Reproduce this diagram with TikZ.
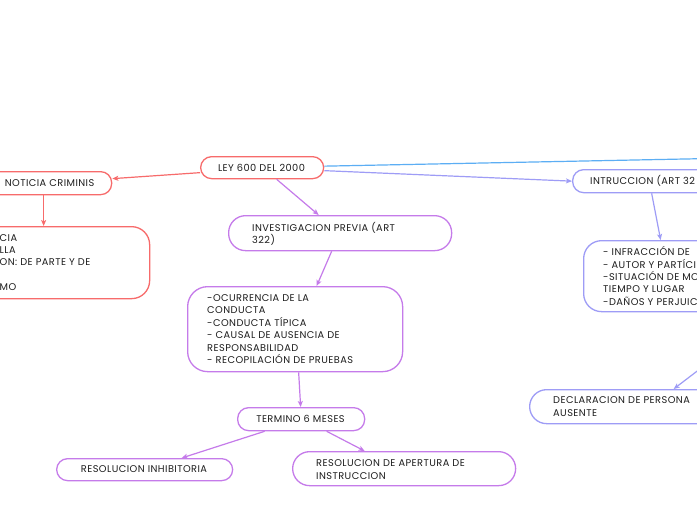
\documentclass[tikz,border=0pt]{standalone}
\usepackage{fontspec}
\setmainfont[LetterSpace=4.5]{Poppins}
\usetikzlibrary{arrows.meta}
\definecolor{cred}{HTML}{F76B6B}
\definecolor{cpur}{HTML}{C57BEA}
\definecolor{cvio}{HTML}{9E9CF6}
\definecolor{cblu}{HTML}{5CAEF4}
\definecolor{ctxt}{HTML}{1E1E1E}
\tikzset{
  box/.style={draw, line width=1.3pt, fill=white, inner sep=0pt, anchor=north west},
  txt/.style={inner sep=0pt, align=left, text=ctxt, font=\fontsize{9.8}{12.4}\selectfont},
  conn/.style={line width=1.2pt, -{Stealth[length=6pt,width=5pt,inset=1.5pt]}},
}
\begin{document}
\begin{tikzpicture}[x=1pt,y=-1pt]
\path[use as bounding box, clip] (0,0) rectangle (697,520);
\fill[white] (0,0) rectangle (697,520);
% boxes
\node[box, draw=cred, minimum width=123pt, minimum height=22pt, rounded corners=11pt] (ley) at (200,156) {};
\node[box, draw=cred, minimum width=141pt, minimum height=23pt, rounded corners=11pt] (noticia) at (-30,171) {};
\node[box, draw=cred, minimum width=179pt, minimum height=72pt, rounded corners=18pt] (red) at (-30,226) {};
\node[box, draw=cpur, minimum width=223pt, minimum height=35pt, rounded corners=17pt] (inv) at (228,215) {};
\node[box, draw=cpur, minimum width=215pt, minimum height=85pt, rounded corners=20pt] (elem) at (187,286) {};
\node[box, draw=cpur, minimum width=127pt, minimum height=23pt, rounded corners=11pt] (term) at (237,407) {};
\node[box, draw=cpur, minimum width=176pt, minimum height=22pt, rounded corners=11pt] (inhib) at (56,458) {};
\node[box, draw=cpur, minimum width=223pt, minimum height=34pt, rounded corners=17pt] (apert) at (292,451) {};
\node[box, draw=cvio, minimum width=150pt, minimum height=23pt, rounded corners=11pt] (intr) at (572,169) {};
\node[box, draw=cvio, minimum width=150pt, minimum height=71pt, rounded corners=18pt] (ins) at (583,240) {};
\node[box, draw=cvio, minimum width=200pt, minimum height=34pt, rounded corners=17pt] (decl) at (529,389) {};
% texts
\node[txt] (tley) at (261.5,167.5) {LEY 600 DEL 2000};
\node[txt, anchor=east] (tnot) at (94.5,183) {NOTICIA CRIMINIS};
\node[txt, anchor=west] (tred) at (-0.5,262.5) {CIA\\LLA\\ON: DE PARTE Y DE\\\mbox{}\\MO};
\node[txt, anchor=west] (tinv) at (252,234) {INVESTIGACION PREVIA (ART\\322)};
\node[txt, anchor=west] (telem) at (207,329) {-OCURRENCIA DE LA\\CONDUCTA\\-CONDUCTA TÍPICA\\- CAUSAL DE AUSENCIA DE\\RESPONSABILIDAD\\- RECOPILACIÓN DE PRUEBAS};
\node[txt] (tterm) at (300.5,419) {TERMINO 6 MESES};
\node[txt] (tinhib) at (144,469.5) {RESOLUCION INHIBITORIA};
\node[txt, anchor=west] (tapert) at (316,469.5) {RESOLUCION DE APERTURA DE\\INSTRUCCION};
\node[txt, anchor=west] (tintr) at (590,181) {INTRUCCION (ART 32};
\node[txt, anchor=west] (tins) at (603,276) {- INFRACCIÓN DE\\- AUTOR Y PARTÍCI\\-SITUACIÓN DE MO\\TIEMPO Y LUGAR\\-DAÑOS Y PERJUIC};
\node[txt, anchor=west] (tdecl) at (553,406.5) {DECLARACION DE PERSONA\\AUSENTE};
% free ends
\coordinate (offr) at (710,158.5);
\coordinate (offd) at (713,359);
% connectors
\draw[conn, cred] ([yshift=-5pt]ley.west) -- ([yshift=4.5pt]noticia.east);
\draw[conn, cred] ([xshift=2.5pt]noticia.south) -- ([xshift=-16.5pt]red.north);
\draw[conn, cpur] ([xshift=14.5pt]ley.south) -- ([xshift=-21.5pt]inv.north);
\draw[conn, cpur] ([xshift=-8.5pt]inv.south) -- ([xshift=21.5pt]elem.north);
\draw[conn, cpur] ([xshift=3.5pt]elem.south) -- ([xshift=-0.5pt]term.north);
\draw[conn, cpur] ([xshift=-36.5pt]term.south) -- ([xshift=37pt]inhib.north);
\draw[conn, cpur] ([xshift=25.5pt]term.south) -- ([xshift=-39.5pt]apert.north);
\draw[conn, cvio] ([yshift=-3pt]ley.east) -- (intr.west);
\draw[line width=1.2pt, cblu] ([yshift=1.5pt]ley.east) -- (offr);
\draw[conn, cvio] ([xshift=4pt]intr.south) -- ([xshift=2pt]ins.north);
\draw[conn, cvio] (offd) -- ([xshift=44pt]decl.north);
\end{tikzpicture}
\end{document}
